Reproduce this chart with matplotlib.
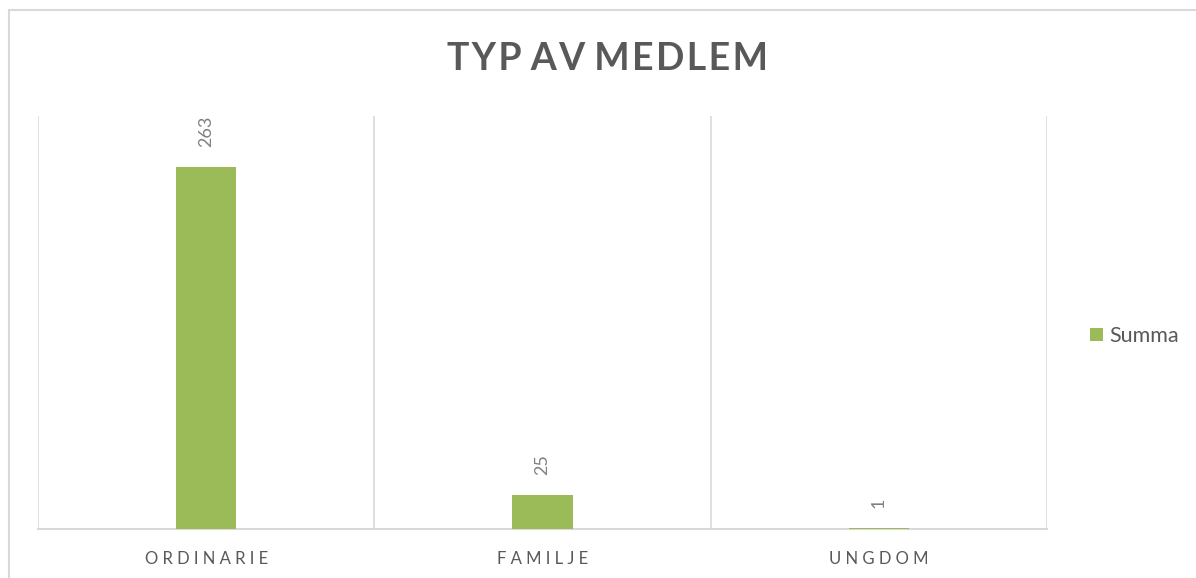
import matplotlib
matplotlib.use("Agg")
import matplotlib.pyplot as plt
from matplotlib.patches import Rectangle

# data
categories = ["ORDINARIE", "FAMILJE", "UNGDOM"]
values = [263, 25, 1]
series_name = "Summa"
title = "TYP AV MEDLEM"

green = "#9bbb59"
grid = "#d9d9d9"
dark = "#595959"

plt.rcParams['font.family'] = ['Lato', 'DejaVu Sans']

W, H = 1196, 578
fig = plt.figure(figsize=(W / 100, H / 100), dpi=100)

# chart frame (cut off at right and bottom in the screenshot)
fig.patches.append(Rectangle((9 / W, -0.1), 1.2, 1 - 10 / H + 0.1,
                             transform=fig.transFigure, fill=False,
                             edgecolor=grid, linewidth=1.5))

# fragment of heading above the chart
fig.text(100 / W, 1 + 18 / H, "Typ", family="DejaVu Serif", fontsize=22,
         color="#4f6228", fontweight="bold", va="baseline")

ax = fig.add_axes([38 / W, 1 - 529 / H, (1047 - 38) / W, (529 - 116) / H])
x = list(range(len(categories)))
bars = ax.bar(x, values, width=0.18, color=green, label=series_name, zorder=3)

ax.set_xlim(-0.5, len(categories) - 0.5)
ax.set_ylim(0, 300)
for b in [i - 0.5 for i in range(len(categories) + 1)]:
    ax.axvline(b, color=grid, linewidth=1.2, zorder=1)

for s in ["top", "right", "left"]:
    ax.spines[s].set_visible(False)
ax.spines["bottom"].set_color(grid)
ax.spines["bottom"].set_linewidth(1.5)
ax.set_yticks([])
ax.set_xticks(x)
ax.set_xticklabels([" ".join(c) for c in categories], color=dark, fontsize=12)
ax.tick_params(axis="x", length=0, pad=16)

for rect, v in zip(bars, values):
    ax.annotate(str(v), (rect.get_x() + rect.get_width() / 2, rect.get_height()),
                xytext=(0, 14), textcoords="offset points", rotation=90,
                ha="center", va="bottom", color="#808080", fontsize=13)

# title with slight letter spacing (hair spaces)
spaced = " ".join("\u200a".join(w) for w in title.split())
fig.text(607 / W, 1 - 59 / H, spaced, ha="center", va="center",
         fontsize=27, fontweight="bold", color=dark)

ax.legend(loc="center left", bbox_to_anchor=(1071 / W, 1 - 336 / H),
          bbox_transform=fig.transFigure, frameon=False, fontsize=15.5,
          handlelength=0.6, handleheight=0.6, handletextpad=0.3,
          labelcolor=dark)

fig.savefig("out.png", dpi=100)
